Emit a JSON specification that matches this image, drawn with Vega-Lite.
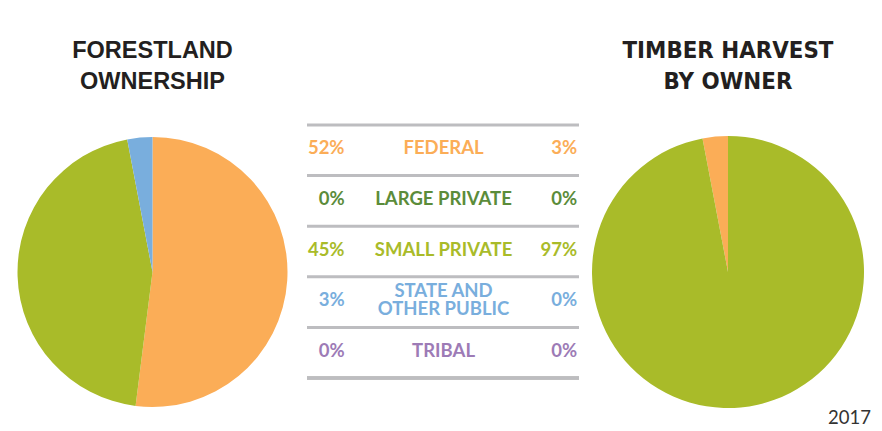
{
  "$schema": "https://vega.github.io/schema/vega-lite/v6.json",
  "padding": {"top": 38, "left": 0, "right": 0, "bottom": 0},
  "spacing": 0,
  "background": "white",
  "config": {"view": {"stroke": null}, "concat": {"spacing": 0}},
  "datasets": {
    "own": [
      {"category": "FEDERAL", "label": "FEDERAL", "forest": 0.52, "harvest": 0.03},
      {"category": "LARGE PRIVATE", "label": "LARGE PRIVATE", "forest": 0.0, "harvest": 0.0},
      {"category": "SMALL PRIVATE", "label": "SMALL PRIVATE", "forest": 0.45, "harvest": 0.97},
      {"category": "STATE AND OTHER PUBLIC", "label": "STATE AND\nOTHER PUBLIC", "forest": 0.03, "harvest": 0.0},
      {"category": "TRIBAL", "label": "TRIBAL", "forest": 0.0, "harvest": 0.0}
    ]
  },
  "title": {"text": "2017", "orient": "bottom", "anchor": "end", "font": "Lato", "fontSize": 18.5, "fontWeight": "normal", "color": "#333333", "offset": -10, "dx": -4},
  "hconcat": [
    {
      "width": 305, "height": 294,
      "title": {"text": ["FORESTLAND", "OWNERSHIP"], "font": "Liberation Sans", "fontSize": 23.5, "fontWeight": "bold", "color": "#231f20", "lineHeight": 31, "offset": 31.5, "anchor": "middle"},
      "data": {"name": "own"},
      "mark": {"type": "arc", "outerRadius": 135},
      "encoding": {
        "theta": {"field": "forest", "type": "quantitative", "stack": true},
        "color": {"field": "category", "type": "nominal",
          "scale": {"domain": ["FEDERAL", "LARGE PRIVATE", "SMALL PRIVATE", "STATE AND OTHER PUBLIC", "TRIBAL"],
                    "range": ["#FBAD57", "#5B8C3A", "#A9BB29", "#79AEDD", "#9D7BB6"]},
          "legend": null},
        "order": {"field": "forest", "type": "quantitative", "sort": "descending"}
      }
    },
    {
      "width": 272, "height": 253,
      "data": {"name": "own"},
      "encoding": {
        "y": {"field": "category", "type": "nominal",
          "scale": {"domain": ["FEDERAL", "LARGE PRIVATE", "SMALL PRIVATE", "STATE AND OTHER PUBLIC", "TRIBAL"], "paddingInner": 0, "paddingOuter": 0},
          "axis": null}
      },
      "layer": [
        {
          "mark": {"type": "rule", "color": "#BDBDC0", "strokeWidth": 3},
          "encoding": {
            "y": {"field": "category", "type": "nominal", "bandPosition": 0},
            "x": {"datum": 0, "type": "quantitative", "scale": {"domain": [0, 100]}, "axis": null},
            "x2": {"datum": 100}
          }
        },
        {
          "mark": {"type": "rule", "color": "#BDBDC0", "strokeWidth": 3},
          "encoding": {
            "y": {"datum": "TRIBAL", "type": "nominal", "bandPosition": 1},
            "x": {"datum": 0, "type": "quantitative"},
            "x2": {"datum": 100}
          }
        },
        {
          "mark": {"type": "text", "align": "right", "baseline": "middle", "font": "Lato", "fontWeight": "bold", "fontSize": 18.5, "dy": -2},
          "encoding": {
            "x": {"datum": 13.8, "type": "quantitative"},
            "text": {"field": "forest", "type": "quantitative", "format": ".0%"},
            "color": {"field": "category", "type": "nominal", "legend": null}
          }
        },
        {
          "transform": [{"filter": "datum.category !== 'STATE AND OTHER PUBLIC'"}],
          "mark": {"type": "text", "align": "center", "baseline": "middle", "font": "Lato", "fontWeight": "bold", "fontSize": 18.5, "dy": -2},
          "encoding": {
            "x": {"datum": 50.2, "type": "quantitative"},
            "text": {"field": "label", "type": "nominal"},
            "color": {"field": "category", "type": "nominal", "legend": null}
          }
        },
        {
          "transform": [{"filter": "datum.category === 'STATE AND OTHER PUBLIC'"}],
          "mark": {"type": "text", "align": "center", "baseline": "middle", "font": "Lato", "fontWeight": "bold", "fontSize": 18.5, "lineBreak": "\n", "lineHeight": 17.5, "dy": -11},
          "encoding": {
            "x": {"datum": 50.2, "type": "quantitative"},
            "text": {"field": "label", "type": "nominal"},
            "color": {"field": "category", "type": "nominal", "legend": null}
          }
        },
        {
          "mark": {"type": "text", "align": "right", "baseline": "middle", "font": "Lato", "fontWeight": "bold", "fontSize": 18.5, "dy": -2},
          "encoding": {
            "x": {"datum": 99.3, "type": "quantitative"},
            "text": {"field": "harvest", "type": "quantitative", "format": ".0%"},
            "color": {"field": "category", "type": "nominal", "legend": null}
          }
        }
      ]
    },
    {
      "width": 294, "height": 294,
      "title": {"text": ["TIMBER HARVEST", "BY OWNER"], "font": "DejaVu Sans Condensed", "fontSize": 23.8, "fontWeight": "bold", "color": "#231f20", "lineHeight": 31, "offset": 31.5, "anchor": "middle"},
      "data": {"name": "own"},
      "mark": {"type": "arc", "outerRadius": 136},
      "encoding": {
        "theta": {"field": "harvest", "type": "quantitative", "stack": true},
        "color": {"field": "category", "type": "nominal", "legend": null},
        "order": {"field": "harvest", "type": "quantitative", "sort": "descending"}
      }
    }
  ]
}
